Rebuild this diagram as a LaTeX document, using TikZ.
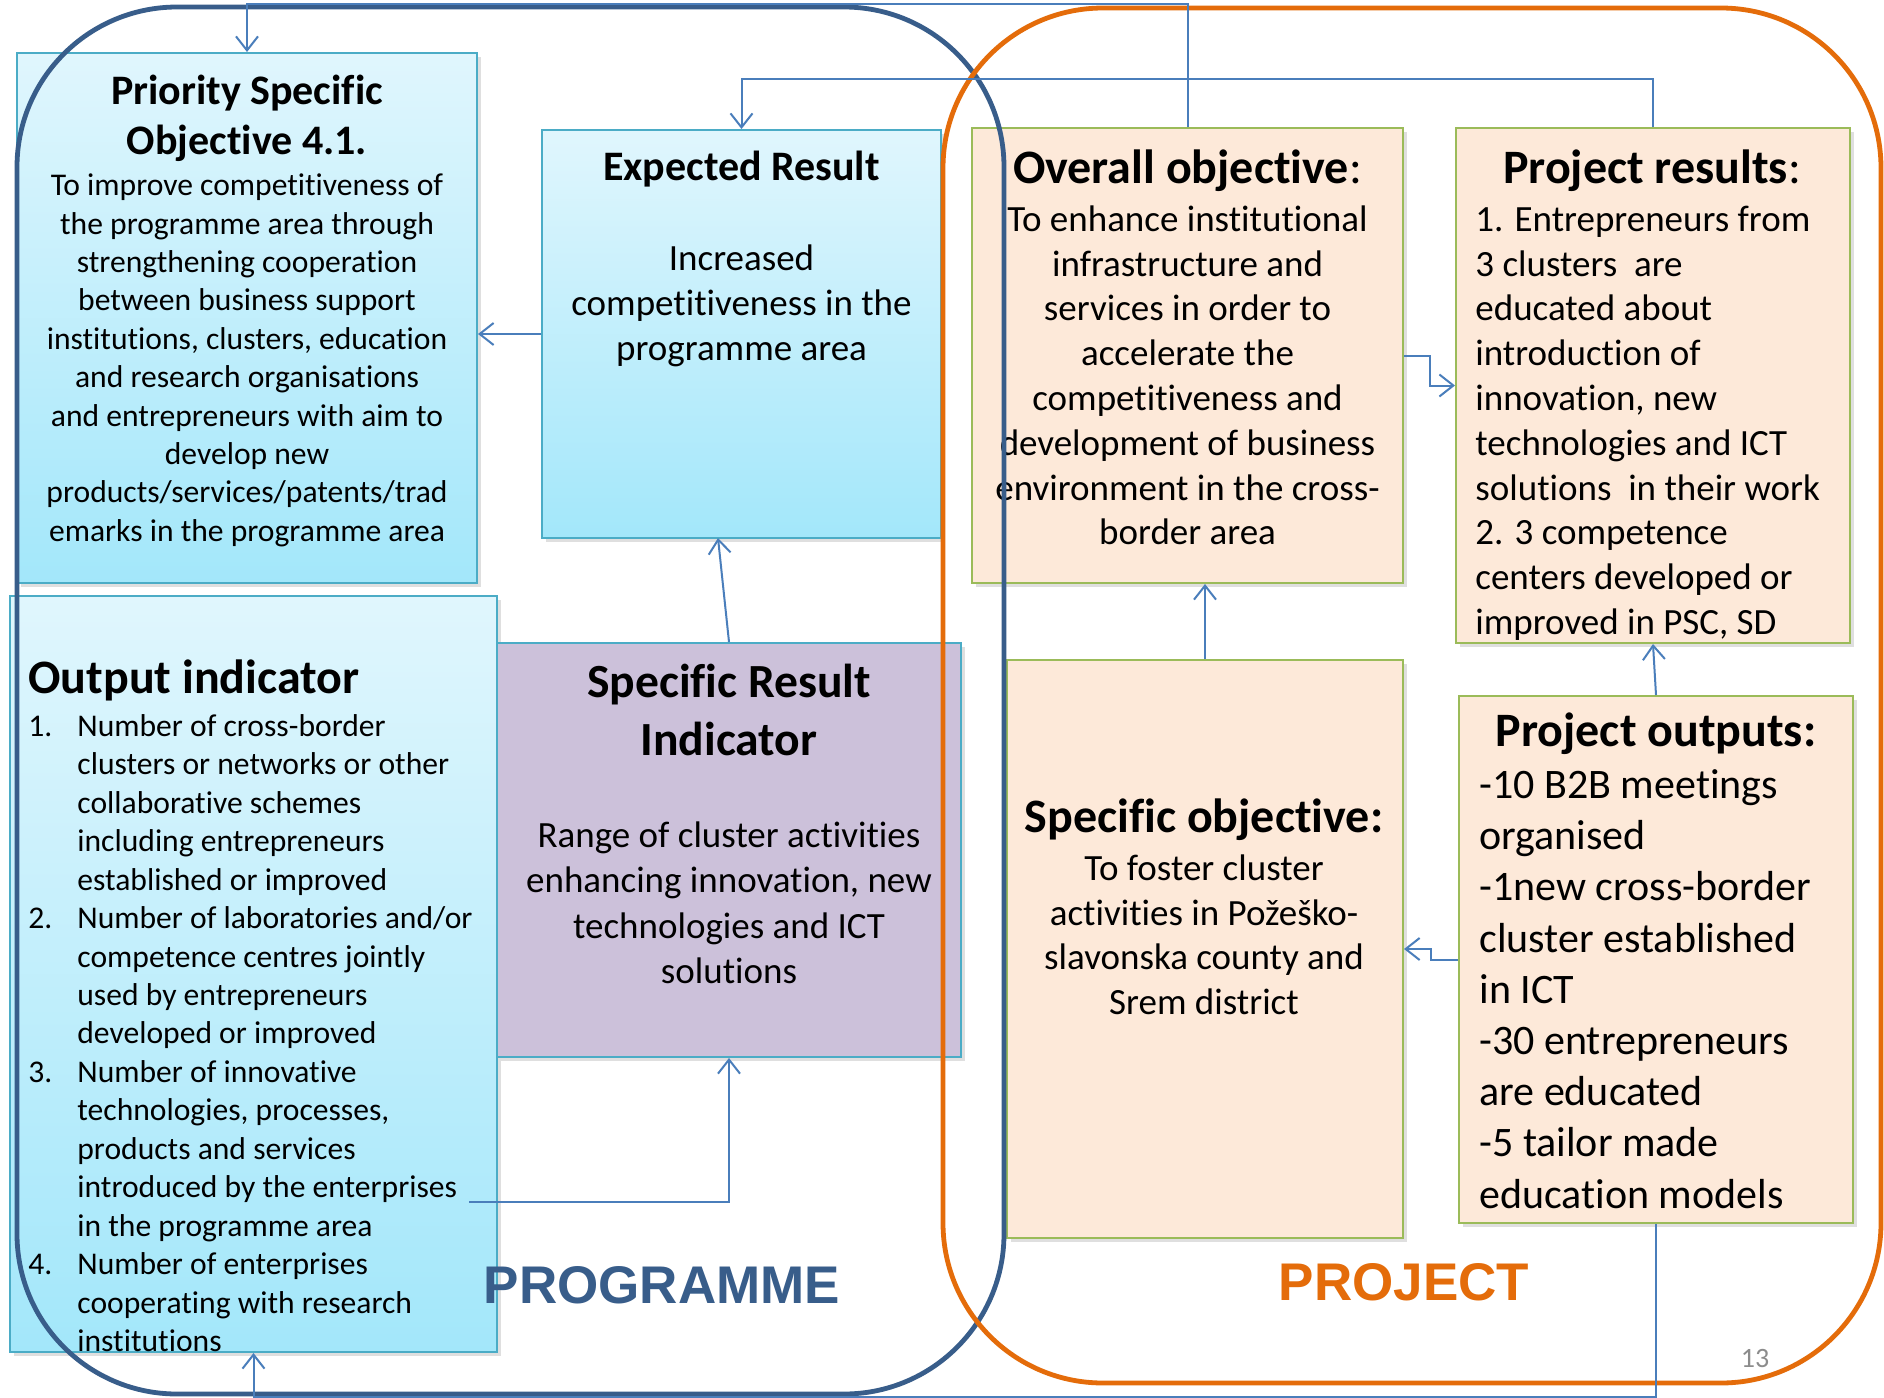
\documentclass[tikz,border=0pt]{standalone}
\usepackage{fontspec}
\setmainfont{Carlito}[Ligatures=NoCommon]
\newfontfamily\headfont{Liberation Sans}
\usetikzlibrary{arrows.meta,shadows,calc}
\definecolor{progblue}{HTML}{385D8A}
\definecolor{projorange}{HTML}{E46C0A}
\definecolor{connblue}{HTML}{4A7EBB}
\definecolor{cyanedge}{HTML}{4BACC6}
\definecolor{cyantop}{HTML}{E0F6FD}
\definecolor{cyanbot}{HTML}{A3E7FA}
\definecolor{lav}{HTML}{CCC1DA}
\definecolor{peach}{HTML}{FDE9D9}
\definecolor{greenedge}{HTML}{9BBB59}
\definecolor{pagegray}{HTML}{8C8C8C}
\newcommand\oinum[1]{\makebox[24.5pt][l]{#1}}
\newcommand\oiind{\hspace*{24.5pt}}
\tikzset{
  boxbase/.style={draw, line width=1pt, inner sep=0pt,
    drop shadow={shadow xshift=2pt, shadow yshift=-2pt, opacity=0.25}},
  cyanbox/.style={boxbase, draw=cyanedge, top color=cyantop, bottom color=cyanbot},
  lavbox/.style={boxbase, draw=cyanedge, fill=lav},
  peachbox/.style={boxbase, draw=greenedge, fill=peach},
  link/.style={draw=connblue, line width=1pt, -{Straight Barb[length=7pt,width=11pt]}},
  txt/.style={inner sep=0pt, anchor=north, align=center},
  txtl/.style={inner sep=0pt, anchor=north west, align=left},
  bigtitle/.style={font=\fontsize{24}{25}\selectfont},
  midtitle/.style={font=\fontsize{21}{25}\selectfont\bfseries},
  bodysm/.style={font=\fontsize{15.8}{19.2}\selectfont},
  bodymd/.style={font=\fontsize{18.5}{22.4}\selectfont},
  bodylg/.style={font=\fontsize{21}{25.6}\selectfont},
  biglabel/.style={font=\headfont\bfseries\fontsize{26.5}{30}\selectfont, anchor=base, inner sep=0pt}
}
\begin{document}
\begin{tikzpicture}[x=0.5pt,y=-0.5pt]
\fill[white] (0,0) rectangle (1884,1397);
\useasboundingbox (0,0) rectangle (1884,1397);

% boxes
\node[cyanbox, minimum width=230pt, minimum height=265pt] (pso) at (247,318) {};
\node[cyanbox, minimum width=199.5pt, minimum height=204pt] (er) at (741.5,334) {};
\node[cyanbox, minimum width=243.5pt, minimum height=378pt] (oi) at (253.5,974) {};
\node[lavbox, minimum width=232pt, minimum height=207pt] (sri) at (729,850) {};
\node[peachbox, minimum width=215.5pt, minimum height=227.5pt] (ov) at (1187.5,355.5) {};
\node[peachbox, minimum width=197pt, minimum height=257.5pt] (pr) at (1653,385.5) {};
\node[peachbox, minimum width=198pt, minimum height=289pt] (so) at (1205,949) {};
\node[peachbox, minimum width=197pt, minimum height=263.5pt] (po) at (1656,959.5) {};

% texts
\node[txt, midtitle] (psoT) at (247,69) {\strut Priority Specific\\Objective 4.1.};
\node[txt, bodysm] (psoB) at (247,168.5) {\strut To improve competitiveness of\\the programme area through\\strengthening cooperation\\between business support\\institutions, clusters, education\\and research organisations\\and entrepreneurs with aim to\\develop new\\products/services/patents/trad\\emarks in the programme area};

\node[txt, midtitle] (erT) at (741.5,145) {\strut Expected Result};
\node[txt, font=\fontsize{18.5}{22.5}\selectfont] (erB) at (741.5,238.5) {\strut Increased\\competitiveness in the\\programme area};

\node[txtl, font=\fontsize{24}{25}\selectfont\bfseries] (oiT) at (28,658) {\strut Output indicator};
\node[txtl, font=\fontsize{15.8}{19.225}\selectfont] (oiB) at (28,709) {\strut\oinum{1.}Number of cross-border\\\oiind clusters or networks or other\\\oiind collaborative schemes\\\oiind including entrepreneurs\\\oiind established or improved\\\oinum{2.}Number of laboratories and/or\\\oiind competence centres jointly\\\oiind used by entrepreneurs\\\oiind developed or improved\\\oinum{3.}Number of innovative\\\oiind technologies, processes,\\\oiind products and services\\\oiind introduced by the enterprises\\\oiind in the programme area\\\oinum{4.}Number of enterprises\\\oiind cooperating with research\\\oiind institutions};

\node[txt, font=\fontsize{23.8}{29}\selectfont\bfseries] (sriT) at (729,656.4) {\strut Specific Result\\Indicator};
\node[txt, font=\fontsize{18.5}{22.65}\selectfont] (sriB) at (729,815.3) {\strut Range of cluster activities\\enhancing innovation, new\\technologies and ICT\\solutions};

\node[txt, bigtitle] (ovT) at (1187.5,148) {\strut\textbf{Overall objective}:};
\node[txt, bodymd] (ovB) at (1187.5,199.6) {\strut To enhance institutional\\infrastructure and\\services in order to\\accelerate the\\competitiveness and\\development of business\\environment in the cross-\\border area};

\node[txt, bigtitle] (prT) at (1652,148) {\strut\textbf{Project results}:};
\node[txtl, bodymd] (prB) at (1475,199.6) {\strut 1. Entrepreneurs from\\3 clusters\ \ are\\educated about\\introduction of\\innovation, new\\technologies and ICT\\solutions\ \ in their work\\2. 3 competence\\centers developed or\\improved in PSC, SD};

\node[txt, bigtitle] (soT) at (1204,797) {\strut\textbf{Specific objective:}};
\node[txt, bodymd] (soB) at (1204,848.6) {\strut To foster cluster\\activities in Požeško-\\slavonska county and\\Srem district};

\node[txt, bigtitle] (poT) at (1656,711) {\strut\textbf{Project outputs:}};
\node[txtl, bodylg] (poB) at (1479,762.2) {\strut -10 B2B meetings\\organised\\-1new cross-border\\cluster established\\in ICT\\-30 entrepreneurs\\are educated\\-5 tailor made\\education models};

% group borders
\draw[progblue, line width=2.4pt, rounded corners=80pt] (17,7) rectangle (1004,1394);
\draw[projorange, line width=2.4pt, rounded corners=80pt] (943,8) rectangle (1881,1383);

\node[biglabel, text=progblue] (progL) at (662,1303) {PROGRAMME};
\node[biglabel, text=projorange] (projL) at (1404,1300) {PROJECT};
\node[font=\fontsize{14}{16}\selectfont, text=pagegray, anchor=base, inner sep=0pt] (pnum) at (1755,1367) {13};

% connectors
\coordinate (erin) at (718,538);
\coordinate (oiout) at (469,1202);
\draw[link] (ov.north) -- ++(0,-123) -| (pso.north);
\draw[link] (pr.north) -- ++(0,-48) -| (er.north);
\draw[link] (er.west) -- (er.west -| pso.east);
\draw[link] (sri.north) -- (erin);
\draw[link] (oiout) -| (sri.south);
\draw[link] (so.north) -- (so.north |- ov.south);
\draw[link] (ov.east) -| ($(ov.east)!.5!(pr.west)$) |- (pr.west);
\draw[link] (po.north) -- (pr.south);
\draw[link] (po.west) -- ++(-27,0) |- (so.east);
\draw[link] (po.south) -- ++(0,173) -| (oi.south);
\end{tikzpicture}
\end{document}
